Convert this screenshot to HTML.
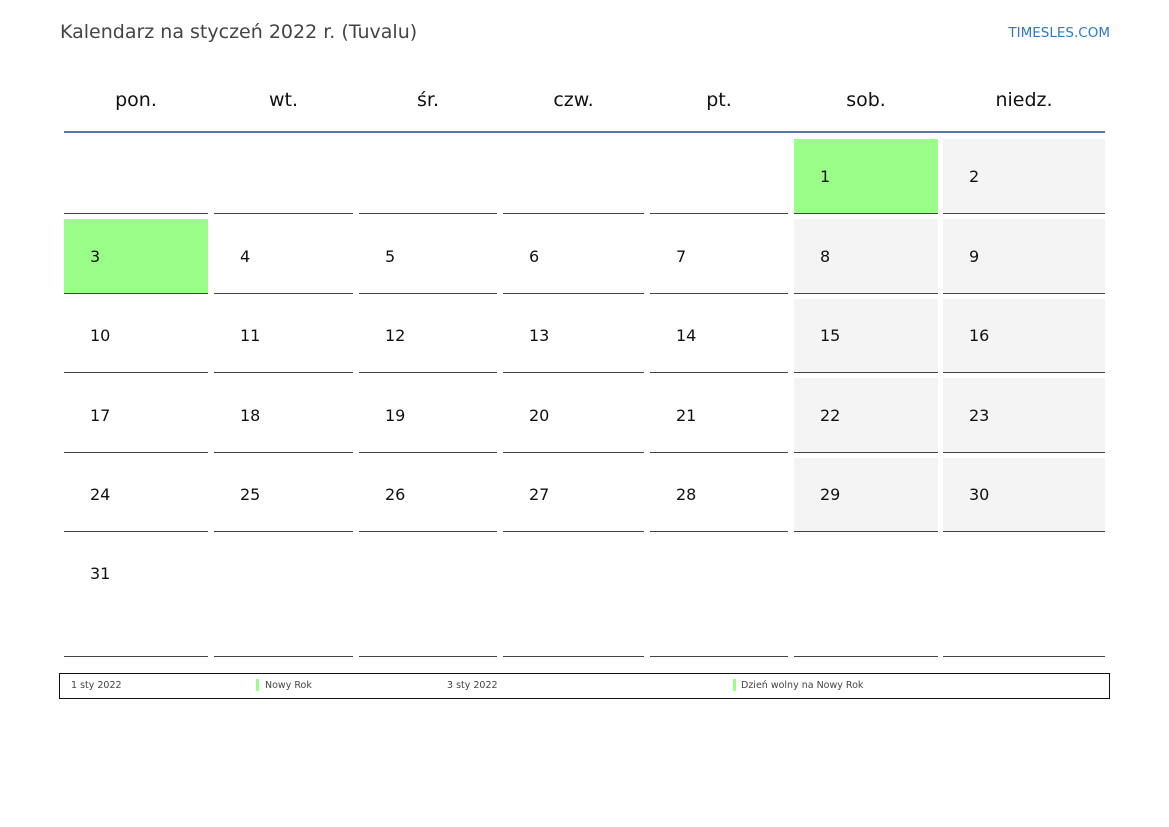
<!DOCTYPE html><html><head><meta charset="utf-8"><style>
body{margin:0;width:1169px;height:827px;background:#fff;position:relative;font-family:"DejaVu Sans","Liberation Sans",sans-serif;overflow:hidden}
div{position:absolute;box-sizing:border-box}
.t{left:60px;top:21px;font-size:19px;color:#444}
.ts{right:59px;top:25px;font-size:13.5px;color:#2a7ac4}
.h{top:89px;font-size:19px;text-align:center;color:#111}
.c{border-bottom:1px solid #444;font-size:16px;color:#111;padding-left:26px}
.w{background:#f4f4f4}.g{background:#99ff88}
.lg{left:59px;top:673px;width:1051px;height:26px;border:1px solid #111}
.l{top:680px;font-size:9.5px;color:#444}
.bar{top:679px;width:3px;height:12px;background:#99ff88}
</style></head><body>
<div class="t">Kalendarz na styczeń 2022 r. (Tuvalu)</div>
<div class="ts">TIMESLES.COM</div>
<div style="left:64px;top:131px;width:1041px;height:2px;background:#5577a0"></div>
<div id="cal"></div>
<div class="lg"></div>
<div class="l" style="left:71px">1 sty 2022</div>
<div class="bar" style="left:256px"></div>
<div class="l" style="left:265px">Nowy Rok</div>
<div class="l" style="left:447px">3 sty 2022</div>
<div class="bar" style="left:733px"></div>
<div class="l" style="left:741px">Dzień wolny na Nowy Rok</div>
<script>
var cols=[[64,208],[214,353],[359,497],[503,644],[650,788],[794,938],[943,1105]];
var names=["pon.","wt.","śr.","czw.","pt.","sob.","niedz."];
var tops=[139,219,299,378,458,537],bots=[213,293,372,452,531,656];
var h="";
cols.forEach(function(c,i){h+='<div class="h" style="left:'+c[0]+'px;width:'+(c[1]-c[0])+'px">'+names[i]+'</div>';});
for(var r=0;r<6;r++)for(var i=0;i<7;i++){
 var d=r*7+i-4;var c=cols[i];
 var cls="c";
 if(d==1||d==3)cls+=" g";else if(i>=5&&r<5)cls+=" w";
 var txt=(d>=1&&d<=31)?d:"";
 var ht=bots[r]-tops[r]+1;
 h+='<div class="'+cls+'" style="left:'+c[0]+'px;width:'+(c[1]-c[0])+'px;top:'+tops[r]+'px;height:'+ht+'px;line-height:'+(r==5?74:ht)+'px">'+txt+'</div>';
}
document.getElementById("cal").innerHTML=h;
</script>
</body></html>
